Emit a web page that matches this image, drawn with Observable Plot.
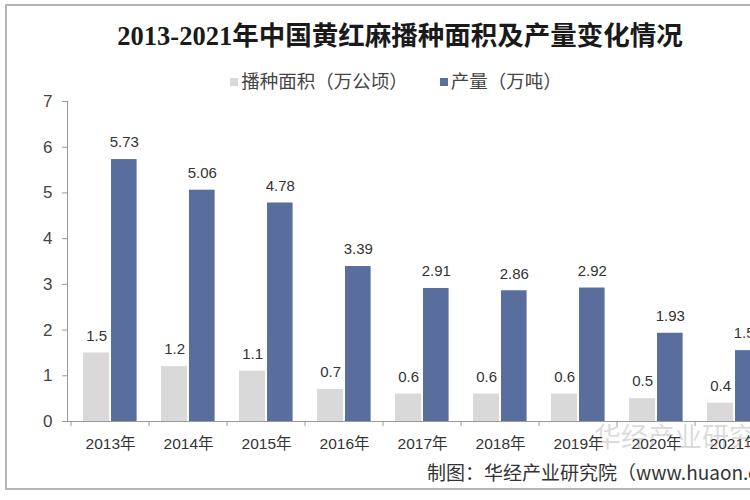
<!DOCTYPE html>
<html>
<head>
<meta charset="utf-8">
<script src="https://cdn.jsdelivr.net/npm/d3@7"></script>
<script src="https://cdn.jsdelivr.net/npm/@observablehq/plot@0.6"></script>
<style>
  html, body { margin: 0; padding: 0; background: #fff; overflow: hidden; }
  #wrap { position: relative; width: 750px; height: 500px; overflow: hidden; background: #fff;
    font-family: "Liberation Sans", Arial, "Noto Sans CJK SC", sans-serif; }
  #frame { position: absolute; left: 5px; top: 4px; width: 800px; height: 486px; border: 2px solid #b4b4b4; box-sizing: border-box; }
  #title { position: absolute; left: 0; top: 19px; width: 800px; text-align: center;
    font-family: "Liberation Serif", "Noto Sans CJK SC", serif; font-weight: bold; font-size: 26.5px; color: #1a1a1a; line-height: 34px; }
  #legend { position: absolute; left: 0; top: 67px; width: 792px; text-align: center; font-size: 18.5px; color: #444;
    font-family: "Noto Sans CJK SC", sans-serif; line-height: 26px; white-space: nowrap; }
  #legend span.sw { display: inline-block; width: 8px; height: 8px; margin-right: 3px; vertical-align: 2px; }
  #legend span.item { margin: 0 16px; }
  #chart { position: absolute; left: 0; top: 92px; width: 790px; }
  #chart svg { max-width: none !important; }
  #caption { position: absolute; left: 427px; top: 459px; font-size: 19px; color: #333; white-space: nowrap;
    font-family: "Noto Sans CJK SC", sans-serif; line-height: 26px; }
  #wm { position: absolute; left: 594px; top: 416px; font-size: 27px; color: rgba(110,110,110,0.25); white-space: nowrap;
    font-family: "Noto Sans CJK SC", sans-serif; }
</style>
</head>
<body>
<div id="wrap">
  <div id="frame"></div>
  <div id="title"></div>
  <div id="legend"></div>
  <div id="chart"></div>
  <div id="wm">华经产业研究院</div>
  <div id="caption"></div>
</div>
<script>
const titleText = "2013-2021年中国黄红麻播种面积及产量变化情况";
const years = ["2013年","2014年","2015年","2016年","2017年","2018年","2019年","2020年","2021年"];
const area = [1.5, 1.2, 1.1, 0.7, 0.6, 0.6, 0.6, 0.5, 0.4];
const output = [5.73, 5.06, 4.78, 3.39, 2.91, 2.86, 2.92, 1.93, 1.55];
const seriesNames = ["播种面积（万公顷）", "产量（万吨）"];
const seriesColors = ["#d9d9d9", "#5a6e9e"];
const yTicks = [0, 1, 2, 3, 4, 5, 6, 7];
const captionText = "制图：华经产业研究院（www.huaon.com）";

document.getElementById("title").textContent = titleText;
document.getElementById("caption").textContent = captionText;
const lg = document.getElementById("legend");
seriesNames.forEach((n, i) => {
  const it = document.createElement("span");
  it.className = "item";
  const sw = document.createElement("span");
  sw.className = "sw";
  sw.style.background = seriesColors[i];
  it.appendChild(sw);
  it.appendChild(document.createTextNode(n));
  lg.appendChild(it);
});

const areaRows = years.map((y, i) => ({year: y, value: area[i]}));
const outRows = years.map((y, i) => ({year: y, value: output[i]}));

const width = 790, height = 365;
const mL = 67, mR = 13, mT = 9, mB = 36;
const bw = (width - mL - mR) / years.length;

const chart = Plot.plot({
  width, height,
  marginLeft: mL, marginRight: mR, marginTop: mT, marginBottom: mB,
  style: {fontFamily: '"Liberation Sans", Arial, "Noto Sans CJK SC", sans-serif', background: "transparent", maxWidth: "none"},
  x: {domain: years, padding: 0, label: null},
  y: {domain: [0, 7], label: null},
  marks: [
    Plot.barY(areaRows, {x: "year", y: "value", fill: seriesColors[0], insetLeft: 12, insetRight: bw - 39}),
    Plot.barY(outRows, {x: "year", y: "value", fill: seriesColors[1], insetLeft: 40, insetRight: bw - 66.5}),
    Plot.text(areaRows, {x: "year", y: "value", text: d => String(d.value), dx: 25.5 - bw / 2, dy: -17, fontSize: 15, fill: "#333"}),
    Plot.text(outRows, {x: "year", y: "value", text: d => String(d.value), dx: 53.25 - bw / 2, dy: -17, fontSize: 15, fill: "#333"}),
    Plot.frame({anchor: "left", stroke: "#999"}),
    Plot.frame({anchor: "bottom", stroke: "#999"}),
    Plot.ruleX(years, {x: d => d, y1: 0, y2: 0, insetBottom: -5, dx: -bw / 2, stroke: "#999"}),
    Plot.axisY({ticks: yTicks, tickFormat: d => String(d), tickSize: 5, tickPadding: 10, fontSize: 17, stroke: "#999", color: "#444", label: null}),
    Plot.axisX({tickSize: 0, tickPadding: 16, fontSize: 15.5, color: "#333", label: null})
  ]
});
document.getElementById("chart").appendChild(chart);
</script>
</body>
</html>
